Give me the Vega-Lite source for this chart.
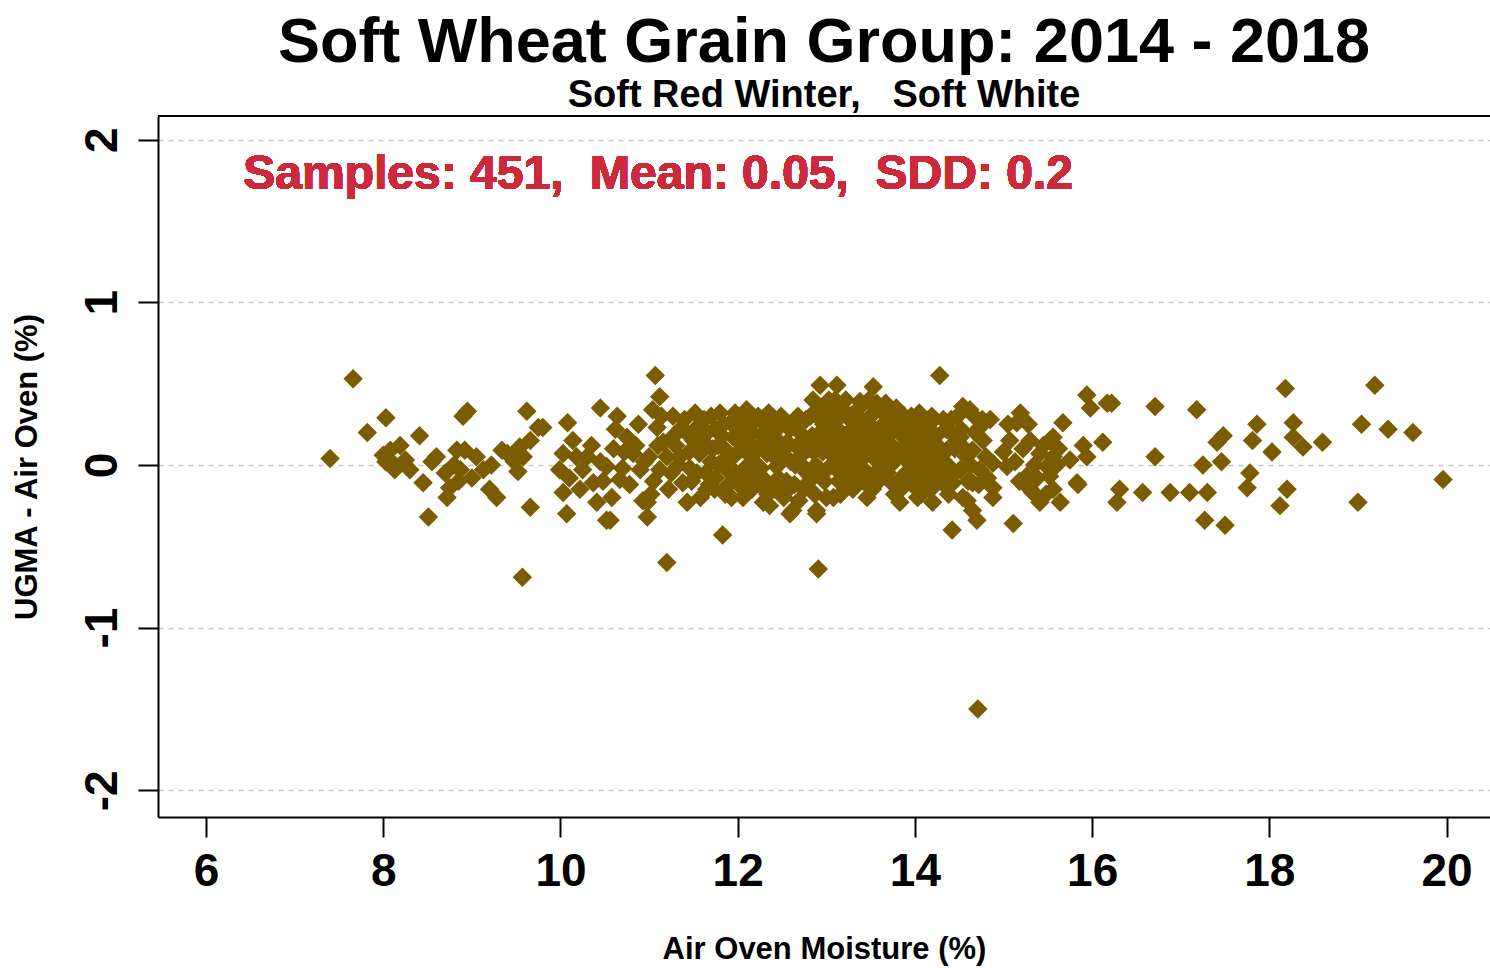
{
  "$schema": "https://vega.github.io/schema/vega-lite/v6.json",
  "width": 1332,
  "height": 701,
  "autosize": {"type": "none"},
  "padding": {"left": 158, "top": 116, "right": 0, "bottom": 151},
  "background": "white",
  "config": {"view": {"stroke": null}, "font": "Liberation Sans"},
  "title": {
    "text": "Soft Wheat Grain Group: 2014 - 2018",
    "subtitle": "Soft Red Winter,\u00a0\u00a0 Soft White",
    "fontSize": 63,
    "subtitleFontSize": 38,
    "fontWeight": "bold",
    "subtitleFontWeight": "bold",
    "font": "Liberation Sans",
    "subtitleFont": "Liberation Sans",
    "color": "black",
    "subtitleColor": "black",
    "anchor": "middle",
    "offset": 0,
    "subtitlePadding": 2
  },
  "data": {"values": [
    {"moisture": 7.40, "diff": 0.04}, {"moisture": 7.66, "diff": 0.53}, {"moisture": 7.82, "diff": 0.20}, {"moisture": 8.03, "diff": 0.29},
    {"moisture": 8.00, "diff": 0.06}, {"moisture": 8.08, "diff": 0.09}, {"moisture": 8.13, "diff": 0.00}, {"moisture": 8.19, "diff": 0.12},
    {"moisture": 8.25, "diff": 0.03}, {"moisture": 8.30, "diff": -0.03}, {"moisture": 8.13, "diff": -0.03}, {"moisture": 8.03, "diff": 0.02},
    {"moisture": 8.41, "diff": 0.18}, {"moisture": 8.45, "diff": -0.11}, {"moisture": 8.51, "diff": -0.32}, {"moisture": 8.72, "diff": -0.20},
    {"moisture": 8.75, "diff": -0.14}, {"moisture": 8.83, "diff": 0.09}, {"moisture": 8.95, "diff": 0.33}, {"moisture": 8.92, "diff": 0.09},
    {"moisture": 8.87, "diff": -0.03}, {"moisture": 9.13, "diff": -0.03}, {"moisture": 9.28, "diff": -0.20}, {"moisture": 9.20, "diff": -0.15},
    {"moisture": 9.34, "diff": 0.09}, {"moisture": 9.54, "diff": 0.11}, {"moisture": 9.62, "diff": 0.33}, {"moisture": 9.75, "diff": 0.23},
    {"moisture": 9.66, "diff": 0.15}, {"moisture": 9.66, "diff": -0.26}, {"moisture": 9.57, "diff": -0.69}, {"moisture": 8.90, "diff": 0.30},
    {"moisture": 8.85, "diff": -0.10}, {"moisture": 8.80, "diff": 0.00}, {"moisture": 8.70, "diff": -0.05}, {"moisture": 8.60, "diff": 0.05},
    {"moisture": 8.55, "diff": 0.02}, {"moisture": 9.00, "diff": -0.08}, {"moisture": 9.05, "diff": 0.05}, {"moisture": 9.22, "diff": 0.00},
    {"moisture": 9.40, "diff": 0.07}, {"moisture": 9.48, "diff": 0.02}, {"moisture": 9.52, "diff": -0.04}, {"moisture": 9.58, "diff": 0.05},
    {"moisture": 10.08, "diff": 0.26}, {"moisture": 9.80, "diff": 0.23}, {"moisture": 10.14, "diff": 0.15}, {"moisture": 10.03, "diff": 0.07},
    {"moisture": 9.99, "diff": -0.03}, {"moisture": 10.03, "diff": -0.17}, {"moisture": 10.07, "diff": -0.30}, {"moisture": 10.25, "diff": -0.03},
    {"moisture": 10.37, "diff": -0.11}, {"moisture": 10.41, "diff": -0.23}, {"moisture": 10.52, "diff": -0.34}, {"moisture": 10.52, "diff": -0.01},
    {"moisture": 10.45, "diff": 0.35}, {"moisture": 10.64, "diff": 0.30}, {"moisture": 10.67, "diff": -0.09}, {"moisture": 10.75, "diff": 0.17},
    {"moisture": 10.82, "diff": 0.07}, {"moisture": 10.90, "diff": -0.03}, {"moisture": 10.93, "diff": -0.22}, {"moisture": 10.98, "diff": -0.32},
    {"moisture": 11.07, "diff": 0.55}, {"moisture": 11.12, "diff": 0.42}, {"moisture": 11.04, "diff": 0.34}, {"moisture": 11.09, "diff": 0.23},
    {"moisture": 11.16, "diff": 0.14}, {"moisture": 11.12, "diff": -0.03}, {"moisture": 11.27, "diff": 0.30}, {"moisture": 11.35, "diff": 0.22},
    {"moisture": 11.38, "diff": -0.11}, {"moisture": 11.43, "diff": -0.23}, {"moisture": 11.54, "diff": 0.23}, {"moisture": 11.57, "diff": 0.07},
    {"moisture": 11.54, "diff": -0.05}, {"moisture": 11.65, "diff": -0.15}, {"moisture": 11.83, "diff": -0.43}, {"moisture": 11.80, "diff": 0.32},
    {"moisture": 11.95, "diff": 0.17}, {"moisture": 11.88, "diff": -0.03}, {"moisture": 12.10, "diff": 0.34}, {"moisture": 12.17, "diff": 0.20},
    {"moisture": 12.10, "diff": -0.01}, {"moisture": 12.03, "diff": -0.13}, {"moisture": 12.29, "diff": -0.23}, {"moisture": 12.33, "diff": 0.07},
    {"moisture": 11.20, "diff": -0.60}, {"moisture": 10.56, "diff": -0.34}, {"moisture": 10.98, "diff": -0.23}, {"moisture": 10.30, "diff": 0.05},
    {"moisture": 10.45, "diff": 0.02}, {"moisture": 10.60, "diff": 0.10}, {"moisture": 10.70, "diff": -0.02}, {"moisture": 10.85, "diff": 0.12},
    {"moisture": 11.00, "diff": 0.05}, {"moisture": 11.05, "diff": -0.10}, {"moisture": 11.20, "diff": 0.05}, {"moisture": 11.25, "diff": -0.05},
    {"moisture": 11.30, "diff": 0.12}, {"moisture": 11.45, "diff": 0.08}, {"moisture": 11.60, "diff": 0.15}, {"moisture": 11.70, "diff": 0.02},
    {"moisture": 11.75, "diff": -0.08}, {"moisture": 11.75, "diff": 0.22}, {"moisture": 11.85, "diff": 0.10}, {"moisture": 11.90, "diff": -0.12},
    {"moisture": 11.95, "diff": 0.05}, {"moisture": 12.00, "diff": 0.25}, {"moisture": 12.05, "diff": 0.10}, {"moisture": 12.15, "diff": 0.05},
    {"moisture": 12.20, "diff": -0.05}, {"moisture": 12.25, "diff": 0.12}, {"moisture": 12.25, "diff": -0.12}, {"moisture": 12.30, "diff": 0.25},
    {"moisture": 12.36, "diff": -0.25}, {"moisture": 12.40, "diff": 0.29}, {"moisture": 12.44, "diff": -0.01}, {"moisture": 12.59, "diff": 0.22},
    {"moisture": 12.62, "diff": -0.28}, {"moisture": 12.67, "diff": 0.11}, {"moisture": 12.74, "diff": -0.01}, {"moisture": 12.82, "diff": 0.30},
    {"moisture": 12.85, "diff": 0.40}, {"moisture": 12.89, "diff": -0.28}, {"moisture": 12.91, "diff": -0.64}, {"moisture": 12.93, "diff": 0.49},
    {"moisture": 12.93, "diff": 0.20}, {"moisture": 13.12, "diff": 0.49}, {"moisture": 13.01, "diff": 0.30}, {"moisture": 13.01, "diff": 0.09},
    {"moisture": 13.08, "diff": -0.20}, {"moisture": 13.12, "diff": -0.03}, {"moisture": 13.19, "diff": 0.09}, {"moisture": 13.19, "diff": -0.11},
    {"moisture": 13.23, "diff": 0.30}, {"moisture": 13.38, "diff": 0.39}, {"moisture": 13.35, "diff": -0.01}, {"moisture": 13.38, "diff": 0.17},
    {"moisture": 13.49, "diff": -0.09}, {"moisture": 13.53, "diff": 0.48}, {"moisture": 13.53, "diff": 0.09}, {"moisture": 13.57, "diff": 0.38},
    {"moisture": 13.64, "diff": -0.03}, {"moisture": 13.68, "diff": 0.17}, {"moisture": 13.75, "diff": 0.30}, {"moisture": 13.80, "diff": -0.11},
    {"moisture": 13.83, "diff": -0.23}, {"moisture": 13.87, "diff": 0.09}, {"moisture": 13.91, "diff": 0.17}, {"moisture": 14.02, "diff": 0.28},
    {"moisture": 14.03, "diff": -0.20}, {"moisture": 13.94, "diff": -0.03}, {"moisture": 14.06, "diff": -0.07}, {"moisture": 14.14, "diff": 0.09},
    {"moisture": 14.20, "diff": 0.17}, {"moisture": 14.20, "diff": -0.03}, {"moisture": 14.20, "diff": -0.23}, {"moisture": 14.28, "diff": 0.55},
    {"moisture": 14.32, "diff": 0.28}, {"moisture": 14.36, "diff": 0.09}, {"moisture": 14.42, "diff": -0.40}, {"moisture": 14.43, "diff": -0.11},
    {"moisture": 14.51, "diff": 0.17}, {"moisture": 14.51, "diff": -0.03}, {"moisture": 14.54, "diff": 0.36}, {"moisture": 14.54, "diff": -0.20},
    {"moisture": 14.62, "diff": 0.34}, {"moisture": 14.65, "diff": 0.09}, {"moisture": 14.65, "diff": -0.11}, {"moisture": 14.65, "diff": -0.28},
    {"moisture": 14.70, "diff": -0.34}, {"moisture": 14.73, "diff": 0.23}, {"moisture": 14.73, "diff": -0.03}, {"moisture": 14.77, "diff": 0.15},
    {"moisture": 14.71, "diff": -1.50}, {"moisture": 12.89, "diff": -0.30}, {"moisture": 12.59, "diff": -0.30}, {"moisture": 12.45, "diff": 0.15},
    {"moisture": 12.50, "diff": 0.05}, {"moisture": 12.55, "diff": -0.10}, {"moisture": 12.70, "diff": 0.20}, {"moisture": 12.75, "diff": -0.15},
    {"moisture": 12.80, "diff": 0.10}, {"moisture": 12.88, "diff": 0.00}, {"moisture": 12.95, "diff": 0.35}, {"moisture": 12.98, "diff": -0.10},
    {"moisture": 13.05, "diff": 0.20}, {"moisture": 13.10, "diff": 0.40}, {"moisture": 13.15, "diff": 0.12}, {"moisture": 13.25, "diff": 0.20},
    {"moisture": 13.28, "diff": -0.05}, {"moisture": 13.30, "diff": 0.05}, {"moisture": 13.32, "diff": 0.30}, {"moisture": 13.40, "diff": 0.08},
    {"moisture": 13.42, "diff": -0.10}, {"moisture": 13.45, "diff": 0.25}, {"moisture": 13.48, "diff": 0.40}, {"moisture": 13.55, "diff": -0.05},
    {"moisture": 13.60, "diff": 0.22}, {"moisture": 13.62, "diff": 0.10}, {"moisture": 13.70, "diff": 0.05}, {"moisture": 13.72, "diff": -0.10},
    {"moisture": 13.78, "diff": 0.25}, {"moisture": 13.85, "diff": 0.10}, {"moisture": 13.90, "diff": -0.05}, {"moisture": 13.95, "diff": 0.20},
    {"moisture": 14.00, "diff": 0.05}, {"moisture": 14.10, "diff": 0.15}, {"moisture": 14.12, "diff": -0.12}, {"moisture": 14.25, "diff": 0.05},
    {"moisture": 14.30, "diff": -0.08}, {"moisture": 14.40, "diff": 0.20}, {"moisture": 14.85, "diff": 0.28}, {"moisture": 14.88, "diff": -0.20},
    {"moisture": 14.88, "diff": 0.01}, {"moisture": 14.88, "diff": -0.14}, {"moisture": 15.04, "diff": -0.01}, {"moisture": 15.11, "diff": -0.36},
    {"moisture": 15.19, "diff": 0.32}, {"moisture": 15.15, "diff": 0.26}, {"moisture": 15.07, "diff": 0.15}, {"moisture": 15.30, "diff": 0.15},
    {"moisture": 15.33, "diff": -0.17}, {"moisture": 15.41, "diff": 0.07}, {"moisture": 15.49, "diff": -0.01}, {"moisture": 15.52, "diff": 0.15},
    {"moisture": 15.52, "diff": -0.07}, {"moisture": 15.56, "diff": -0.15}, {"moisture": 15.64, "diff": -0.23}, {"moisture": 15.67, "diff": 0.26},
    {"moisture": 15.75, "diff": 0.03}, {"moisture": 15.83, "diff": -0.11}, {"moisture": 15.90, "diff": 0.12}, {"moisture": 15.94, "diff": 0.43},
    {"moisture": 15.98, "diff": 0.35}, {"moisture": 16.12, "diff": 0.14}, {"moisture": 16.17, "diff": 0.38}, {"moisture": 15.26, "diff": -0.07},
    {"moisture": 15.30, "diff": -0.15}, {"moisture": 15.41, "diff": -0.23}, {"moisture": 15.56, "diff": 0.05}, {"moisture": 15.56, "diff": 0.17},
    {"moisture": 15.94, "diff": 0.05}, {"moisture": 15.84, "diff": -0.12}, {"moisture": 16.22, "diff": 0.38}, {"moisture": 16.31, "diff": -0.15},
    {"moisture": 16.28, "diff": -0.23}, {"moisture": 16.57, "diff": -0.17}, {"moisture": 16.71, "diff": 0.36}, {"moisture": 16.71, "diff": 0.05},
    {"moisture": 16.88, "diff": -0.17}, {"moisture": 17.10, "diff": -0.17}, {"moisture": 17.18, "diff": 0.34}, {"moisture": 17.25, "diff": 0.00},
    {"moisture": 17.27, "diff": -0.34}, {"moisture": 17.30, "diff": -0.17}, {"moisture": 17.41, "diff": 0.14}, {"moisture": 17.46, "diff": 0.02},
    {"moisture": 17.48, "diff": 0.18}, {"moisture": 17.50, "diff": -0.37}, {"moisture": 17.75, "diff": -0.14}, {"moisture": 17.78, "diff": -0.05},
    {"moisture": 17.81, "diff": 0.15}, {"moisture": 17.86, "diff": 0.25}, {"moisture": 18.03, "diff": 0.08}, {"moisture": 18.12, "diff": -0.25},
    {"moisture": 18.18, "diff": 0.47}, {"moisture": 18.20, "diff": -0.15}, {"moisture": 18.27, "diff": 0.26}, {"moisture": 18.27, "diff": 0.17},
    {"moisture": 18.38, "diff": 0.11}, {"moisture": 18.60, "diff": 0.14}, {"moisture": 19.00, "diff": -0.23}, {"moisture": 19.04, "diff": 0.25},
    {"moisture": 19.19, "diff": 0.49}, {"moisture": 19.34, "diff": 0.22}, {"moisture": 19.62, "diff": 0.20}, {"moisture": 19.96, "diff": -0.09},
    {"moisture": 11.62, "diff": 0.28}, {"moisture": 11.68, "diff": -0.12}, {"moisture": 11.72, "diff": 0.10}, {"moisture": 11.78, "diff": 0.00},
    {"moisture": 11.82, "diff": 0.18}, {"moisture": 11.86, "diff": -0.18}, {"moisture": 11.92, "diff": 0.26}, {"moisture": 11.98, "diff": -0.05},
    {"moisture": 12.02, "diff": 0.14}, {"moisture": 12.06, "diff": -0.20}, {"moisture": 12.08, "diff": 0.30}, {"moisture": 12.12, "diff": 0.08},
    {"moisture": 12.14, "diff": -0.08}, {"moisture": 12.18, "diff": 0.28}, {"moisture": 12.22, "diff": 0.00}, {"moisture": 12.27, "diff": 0.18},
    {"moisture": 12.32, "diff": -0.10}, {"moisture": 12.35, "diff": 0.32}, {"moisture": 12.38, "diff": 0.12}, {"moisture": 12.42, "diff": -0.15},
    {"moisture": 12.48, "diff": 0.24}, {"moisture": 12.52, "diff": -0.20}, {"moisture": 12.56, "diff": 0.14}, {"moisture": 12.60, "diff": 0.02},
    {"moisture": 12.64, "diff": -0.12}, {"moisture": 12.68, "diff": 0.30}, {"moisture": 12.72, "diff": 0.06}, {"moisture": 12.78, "diff": -0.05},
    {"moisture": 12.84, "diff": 0.18}, {"moisture": 12.87, "diff": -0.18}, {"moisture": 12.90, "diff": 0.30}, {"moisture": 12.96, "diff": 0.08},
    {"moisture": 13.00, "diff": -0.20}, {"moisture": 13.03, "diff": 0.40}, {"moisture": 13.06, "diff": 0.00}, {"moisture": 13.09, "diff": 0.26},
    {"moisture": 13.14, "diff": -0.10}, {"moisture": 13.17, "diff": 0.35}, {"moisture": 13.21, "diff": 0.00}, {"moisture": 13.26, "diff": 0.12},
    {"moisture": 13.30, "diff": -0.15}, {"moisture": 13.34, "diff": 0.22}, {"moisture": 13.37, "diff": 0.35}, {"moisture": 13.41, "diff": -0.02},
    {"moisture": 13.44, "diff": 0.14}, {"moisture": 13.50, "diff": 0.30}, {"moisture": 13.52, "diff": -0.15}, {"moisture": 13.58, "diff": 0.02},
    {"moisture": 13.61, "diff": 0.34}, {"moisture": 13.66, "diff": 0.26}, {"moisture": 13.69, "diff": -0.05}, {"moisture": 13.74, "diff": 0.12},
    {"moisture": 13.77, "diff": -0.18}, {"moisture": 13.82, "diff": 0.20}, {"moisture": 13.88, "diff": 0.30}, {"moisture": 13.92, "diff": 0.02},
    {"moisture": 13.97, "diff": -0.12}, {"moisture": 14.01, "diff": 0.18}, {"moisture": 14.05, "diff": 0.32}, {"moisture": 14.08, "diff": -0.02},
    {"moisture": 14.16, "diff": 0.25}, {"moisture": 14.18, "diff": -0.15}, {"moisture": 14.23, "diff": 0.12}, {"moisture": 14.27, "diff": -0.05},
    {"moisture": 14.35, "diff": 0.22}, {"moisture": 14.38, "diff": -0.18}, {"moisture": 14.45, "diff": 0.10}, {"moisture": 14.48, "diff": 0.30},
    {"moisture": 14.58, "diff": 0.05}, {"moisture": 14.60, "diff": -0.10}, {"moisture": 14.68, "diff": 0.20}, {"moisture": 14.80, "diff": 0.05},
    {"moisture": 10.10, "diff": -0.08}, {"moisture": 10.18, "diff": 0.05}, {"moisture": 10.22, "diff": -0.15}, {"moisture": 10.35, "diff": 0.12},
    {"moisture": 10.48, "diff": -0.10}, {"moisture": 10.58, "diff": -0.20}, {"moisture": 10.62, "diff": 0.22}, {"moisture": 10.72, "diff": 0.08},
    {"moisture": 10.78, "diff": -0.12}, {"moisture": 10.88, "diff": 0.25}, {"moisture": 10.95, "diff": 0.02}, {"moisture": 11.02, "diff": -0.18},
    {"moisture": 11.10, "diff": 0.12}, {"moisture": 11.14, "diff": 0.30}, {"moisture": 11.22, "diff": -0.15}, {"moisture": 11.28, "diff": 0.18},
    {"moisture": 11.33, "diff": 0.00}, {"moisture": 11.40, "diff": 0.28}, {"moisture": 11.48, "diff": -0.10}, {"moisture": 11.50, "diff": 0.15},
    {"moisture": 11.58, "diff": -0.20},
    {"moisture": 11.35, "diff": 0.05}, {"moisture": 11.42, "diff": 0.20}, {"moisture": 11.46, "diff": -0.02}, {"moisture": 11.52, "diff": 0.32},
    {"moisture": 11.56, "diff": 0.12}, {"moisture": 11.64, "diff": -0.05}, {"moisture": 11.66, "diff": 0.20}, {"moisture": 11.70, "diff": 0.30},
    {"moisture": 11.74, "diff": -0.15}, {"moisture": 11.78, "diff": 0.12}, {"moisture": 11.84, "diff": 0.25}, {"moisture": 11.88, "diff": 0.05},
    {"moisture": 11.93, "diff": -0.20}, {"moisture": 11.97, "diff": 0.32}, {"moisture": 12.01, "diff": -0.08}, {"moisture": 12.04, "diff": 0.20},
    {"moisture": 12.09, "diff": 0.15}, {"moisture": 12.13, "diff": 0.25}, {"moisture": 12.16, "diff": -0.15}, {"moisture": 12.19, "diff": 0.10},
    {"moisture": 12.23, "diff": 0.30}, {"moisture": 12.26, "diff": -0.02}, {"moisture": 12.31, "diff": 0.15}, {"moisture": 12.34, "diff": -0.18},
    {"moisture": 12.37, "diff": 0.22}, {"moisture": 12.41, "diff": 0.05}, {"moisture": 12.46, "diff": -0.08}, {"moisture": 12.49, "diff": 0.30},
    {"moisture": 12.53, "diff": 0.10}, {"moisture": 12.57, "diff": -0.15}, {"moisture": 12.61, "diff": 0.25}, {"moisture": 12.65, "diff": 0.00},
    {"moisture": 12.69, "diff": -0.22}, {"moisture": 12.73, "diff": 0.15}, {"moisture": 12.77, "diff": 0.28}, {"moisture": 12.81, "diff": -0.10},
    {"moisture": 12.86, "diff": 0.08}, {"moisture": 12.92, "diff": -0.05}, {"moisture": 12.94, "diff": 0.12}, {"moisture": 12.97, "diff": 0.25},
    {"moisture": 13.02, "diff": -0.02}, {"moisture": 13.04, "diff": 0.15}, {"moisture": 13.07, "diff": 0.33}, {"moisture": 13.11, "diff": 0.05},
    {"moisture": 13.13, "diff": 0.22}, {"moisture": 13.16, "diff": -0.18}, {"moisture": 13.20, "diff": 0.18}, {"moisture": 13.22, "diff": 0.40},
    {"moisture": 13.24, "diff": -0.08}, {"moisture": 13.27, "diff": 0.30}, {"moisture": 13.29, "diff": 0.10}, {"moisture": 13.33, "diff": -0.05},
    {"moisture": 13.36, "diff": 0.15}, {"moisture": 13.39, "diff": 0.28}, {"moisture": 13.43, "diff": 0.05}, {"moisture": 13.46, "diff": -0.20},
    {"moisture": 13.47, "diff": 0.18}, {"moisture": 13.51, "diff": 0.08}, {"moisture": 13.54, "diff": 0.22}, {"moisture": 13.56, "diff": 0.35},
    {"moisture": 13.59, "diff": -0.10}, {"moisture": 13.63, "diff": 0.15}, {"moisture": 13.65, "diff": 0.05}, {"moisture": 13.67, "diff": 0.38},
    {"moisture": 13.71, "diff": 0.20}, {"moisture": 13.73, "diff": 0.00}, {"moisture": 13.76, "diff": 0.10}, {"moisture": 13.79, "diff": 0.35},
    {"moisture": 13.81, "diff": 0.05}, {"moisture": 13.84, "diff": -0.15}, {"moisture": 13.86, "diff": 0.25}, {"moisture": 13.89, "diff": -0.08},
    {"moisture": 13.93, "diff": 0.12}, {"moisture": 13.96, "diff": 0.30}, {"moisture": 13.99, "diff": -0.02}, {"moisture": 14.04, "diff": 0.10},
    {"moisture": 14.07, "diff": -0.18}, {"moisture": 14.09, "diff": 0.22}, {"moisture": 14.11, "diff": 0.02}, {"moisture": 14.15, "diff": -0.08},
    {"moisture": 14.19, "diff": 0.30}, {"moisture": 14.22, "diff": -0.12}, {"moisture": 14.24, "diff": 0.18}, {"moisture": 14.29, "diff": 0.10},
    {"moisture": 14.33, "diff": -0.12}, {"moisture": 14.37, "diff": 0.00}, {"moisture": 14.41, "diff": 0.28}, {"moisture": 14.44, "diff": -0.05},
    {"moisture": 14.47, "diff": 0.15}, {"moisture": 14.52, "diff": 0.22}, {"moisture": 14.56, "diff": 0.10}, {"moisture": 14.59, "diff": -0.22},
    {"moisture": 14.63, "diff": 0.00}, {"moisture": 14.67, "diff": 0.30}, {"moisture": 14.72, "diff": -0.12}, {"moisture": 14.76, "diff": 0.28},
    {"moisture": 14.82, "diff": -0.08}, {"moisture": 15.00, "diff": 0.08}, {"moisture": 15.05, "diff": 0.25}, {"moisture": 15.13, "diff": 0.02},
    {"moisture": 15.18, "diff": -0.10}, {"moisture": 15.22, "diff": 0.10}, {"moisture": 15.28, "diff": 0.25}, {"moisture": 15.35, "diff": 0.00},
    {"moisture": 15.38, "diff": -0.08}, {"moisture": 15.45, "diff": 0.12}, {"moisture": 15.48, "diff": -0.18}, {"moisture": 15.60, "diff": 0.00},
    {"moisture": 15.62, "diff": 0.10}
  ]},
  "layer": [
    {
      "mark": {"type": "point", "shape": "diamond", "filled": true, "size": 380, "color": "#7b5c00", "opacity": 1, "strokeWidth": 0},
      "encoding": {
        "x": {
          "field": "moisture", "type": "quantitative",
          "scale": {"domain": [5.458, 20.49], "nice": false, "zero": false},
          "axis": {
            "values": [6, 8, 10, 12, 14, 16, 18, 20],
            "labelExpr": "'' + datum.value",
            "title": "Air Oven Moisture (%)",
            "grid": false,
            "domainColor": "black", "domainWidth": 2,
            "tickColor": "black", "tickWidth": 2, "tickSize": 20,
            "labelFontSize": 46, "labelFontWeight": "bold", "labelColor": "black", "labelPadding": 12,
            "labelFont": "Liberation Sans", "labelFlush": false, "labelOverlap": false,
            "titleFontSize": 31, "titleFontWeight": "bold", "titleColor": "black", "titlePadding": 40,
            "titleFont": "Liberation Sans"
          }
        },
        "y": {
          "field": "diff", "type": "quantitative",
          "scale": {"domain": [-2.164, 2.145], "nice": false, "zero": false},
          "axis": {
            "values": [-2, -1, 0, 1, 2],
            "labelExpr": "'' + datum.value",
            "title": "UGMA - Air Oven (%)",
            "grid": true, "gridDash": [5, 5], "gridColor": "#c4c4c4", "gridWidth": 1.5,
            "domainColor": "black", "domainWidth": 2,
            "tickColor": "black", "tickWidth": 2, "tickSize": 20,
            "labelFontSize": 46, "labelFontWeight": "bold", "labelColor": "black", "labelPadding": 12,
            "labelAngle": 270, "labelAlign": "center", "labelBaseline": "bottom",
            "labelFont": "Liberation Sans", "labelOverlap": false,
            "titleFontSize": 31, "titleFontWeight": "bold", "titleColor": "black", "titlePadding": 36,
            "titleFont": "Liberation Sans"
          }
        }
      }
    },
    {
      "mark": {"type": "rule", "color": "black", "strokeWidth": 2},
      "encoding": {"y": {"datum": 2.145, "type": "quantitative"}}
    },
    {
      "mark": {"type": "text", "align": "left", "baseline": "middle", "fontSize": 48, "fontWeight": "bold", "color": "#cc2a3b", "font": "Liberation Sans"},
      "encoding": {
        "x": {"datum": 6.42, "type": "quantitative"},
        "y": {"datum": 1.78, "type": "quantitative"},
        "text": {"value": "Samples: 451,\u00a0 Mean: 0.05,\u00a0 SDD: 0.2"}
      }
    }
  ]
}
